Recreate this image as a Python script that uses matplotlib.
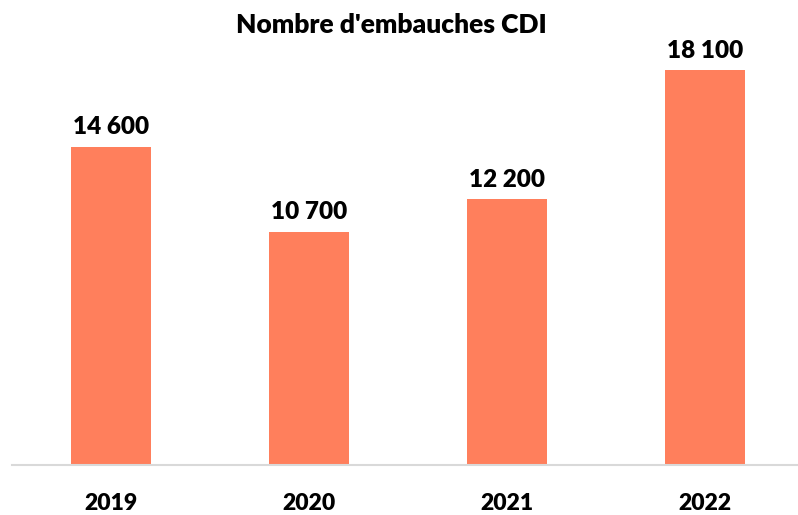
import matplotlib.pyplot as plt

years = ["2019", "2020", "2021", "2022"]
hires = [14600, 10700, 12200, 18100]
value_labels = ["14 600", "10 700", "12 200", "18 100"]

plt.rcParams['font.family'] = ['Lato', 'DejaVu Sans']

fig = plt.figure(figsize=(7.98, 5.15), dpi=100)
ax = fig.add_axes([12 / 798, 50 / 515, 786 / 798, 436 / 515])

x = range(len(years))
ax.bar(x, hires, width=0.40, color="#FF7F5C")

for i, (v, lab) in enumerate(zip(hires, value_labels)):
    ax.annotate(lab, (i, v), xytext=(0, 6), textcoords="offset points",
                ha="center", va="bottom", fontsize=17.5, fontweight="heavy")

ax.set_xlim(-0.5, 3.47)
ax.set_ylim(0, 20000)
ax.set_xticks(list(x))
ax.set_xticklabels(years, fontsize=16.5, fontweight="heavy")
ax.tick_params(axis="x", length=0, pad=20)
ax.set_yticks([])
for s in ["top", "right", "left"]:
    ax.spines[s].set_visible(False)
ax.spines["bottom"].set_color("#D9D9D9")
ax.spines["bottom"].set_linewidth(1.5)

fig.text(0.49, 0.952, "Nombre d'embauches CDI", ha="center", va="center",
         fontsize=19, fontweight="heavy")

fig.savefig("out.png", dpi=100)
